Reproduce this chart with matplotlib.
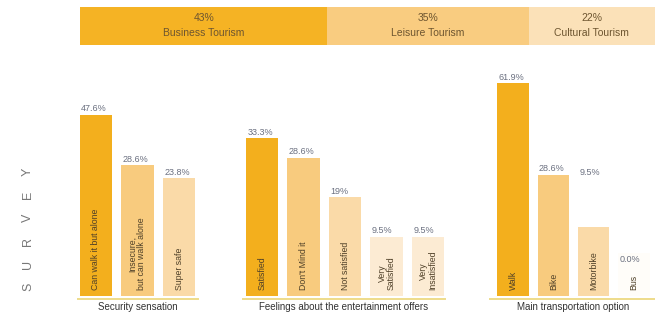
import matplotlib
matplotlib.use("Agg")
import matplotlib.pyplot as plt

W, H = 655, 321

TOURISM = ['Business Tourism', 'Leisure Tourism', 'Cultural Tourism']
TOURISM_SHARE = [43, 35, 22]

SECURITY_LABELS = ['Can walk it but alone', 'Insecure,\nbut can walk alone', 'Super safe']
SECURITY_VALUES = [47.6, 28.6, 23.8]
SECURITY_TEXT = ['47.6%', '28.6%', '23.8%']

ENTERTAIN_LABELS = ['Satisfied', "Don't Mind it", 'Not satisfied',
                    'Very\nSatisfied', 'Very\nInsatisfied']
ENTERTAIN_VALUES = [33.3, 28.6, 19, 9.5, 9.5]
ENTERTAIN_TEXT = ['33.3%', '28.6%', '19%', '9.5%', '9.5%']

TRANSPORT_LABELS = ['Walk', 'Bike', 'Motorbike', 'Bus']
TRANSPORT_VALUES = [61.9, 28.6, 9.5, 0.0]
TRANSPORT_TEXT = ['61.9%', '28.6%', '9.5%', '0.0%']

BAND_COLORS = ['#F5B324', '#F9CC80', '#FBE1B8']
GOLD, MID, LIGHT, PALE, BLANK = '#F3AF1D', '#F8CB7E', '#FADAA8', '#FCEBD3', '#FFFDF9'
LINE = '#EEDC8A'
PCT_COLOR = '#6b7080'

plt.rcParams['font.family'] = ['Liberation Sans', 'DejaVu Sans']


def px_axes(fig, left, top, right, bottom):
    # pixel box (from top-left) -> figure fraction
    return fig.add_axes([left / W, 1 - bottom / H, (right - left) / W, (bottom - top) / H])


def panel(fig, title, labels, values, texts, colors, c0, step, xlim,
          px_per_pct, zero_px, label_shift=None):
    base_px, top_px = 296, 58
    left = c0 + xlim[0] * step
    right = c0 + xlim[1] * step
    ax = px_axes(fig, left, top_px, right, base_px + 3)
    base = -zero_px / px_per_pct
    ax.set_xlim(*xlim)
    ax.set_ylim(base - 3 / px_per_pct, base + (base_px - top_px) / px_per_pct)

    x = list(range(len(values)))
    heights = [v - base for v in values]
    ax.bar(x, heights, bottom=base, width=0.78, color=colors)

    label_shift = label_shift or {}
    for i, (v, t, lab) in enumerate(zip(values, texts, labels)):
        dy = label_shift.get(i, 1)
        ax.annotate(t, (i - 0.39, v), xytext=(1, dy), textcoords='offset points',
                    ha='left', va='bottom', fontsize=6.5, color=PCT_COLOR)
        ax.annotate(lab, (i, base), xytext=(0, 4), textcoords='offset points',
                    rotation=90, ha='center', va='bottom', fontsize=6.3,
                    color='#4f4028', linespacing=1.0)

    for s in ['top', 'left', 'right']:
        ax.spines[s].set_visible(False)
    ax.spines['bottom'].set_color(LINE)
    ax.spines['bottom'].set_linewidth(1.4)
    ax.set_yticks([])
    ax.set_xticks([])
    ax.set_xlabel(title, fontsize=7, color='#333333', labelpad=2)
    return ax


fig = plt.figure(figsize=(W / 100, H / 100), dpi=100)

# tourism share band
band = px_axes(fig, 80, 7, 655, 45)
start = 0
for name, share, c in zip(TOURISM, TOURISM_SHARE, BAND_COLORS):
    band.barh(0, share, left=start, height=1, color=c)
    band.text(start + share / 2, 0.08, '%d%%' % share, ha='center', va='bottom',
              fontsize=7.5, color='#6d5530')
    band.text(start + share / 2, -0.04, name, ha='center', va='top',
              fontsize=7.5, color='#6d5530')
    start += share
band.set_xlim(0, 100)
band.set_ylim(-0.5, 0.5)
band.axis('off')

panel(fig, 'Security sensation', SECURITY_LABELS, SECURITY_VALUES, SECURITY_TEXT,
      [GOLD, MID, LIGHT], 96, 41.5, (-0.43, 2.46), 2.65, 55)
panel(fig, 'Feelings about the entertainment offers', ENTERTAIN_LABELS,
      ENTERTAIN_VALUES, ENTERTAIN_TEXT, [GOLD, MID, LIGHT, PALE, PALE],
      262, 41.5, (-0.45, 4.4), 4.14, 19.9)
panel(fig, 'Main transportation option', TRANSPORT_LABELS, TRANSPORT_VALUES,
      TRANSPORT_TEXT, [GOLD, MID, LIGHT, BLANK], 513, 40.3, (-0.57, 3.55),
      2.74, 43, label_shift={2: 36, 3: -8})

for k, ch in enumerate('SURVEY'):
    fig.text(28 / W, 1 - (287 - 23 * k) / H, ch, rotation=90, ha='center',
             va='center', fontsize=9, color='#777777')

fig.savefig('out.png', dpi=100)
